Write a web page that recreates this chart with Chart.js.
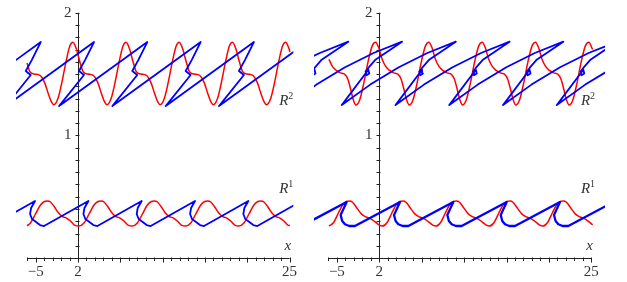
<!DOCTYPE html>
<html>
<head>
<meta charset="utf-8">
<script src="https://cdn.jsdelivr.net/npm/chart.js@4.4.1/dist/chart.umd.min.js"></script>
<style>
  html, body { margin: 0; padding: 0; background: #fff; }
  body { width: 627px; height: 282px; position: relative; overflow: hidden; }
  .panel { position: absolute; top: 0; height: 282px; }
  #leftBox { left: 0; width: 310px; }
  #rightBox { left: 305px; width: 322px; }
</style>
</head>
<body>
<div class="panel" id="leftBox"><canvas id="leftChart"></canvas></div>
<div class="panel" id="rightBox"><canvas id="rightChart"></canvas></div>
<script>
// axis labels
const xTickValues = [-2.6, 2, 25];
const xTickLabels = ["\u22125", "2", "25"];
const yTickValues = [1, 2];
const yTickLabels = ["1", "2"];
const xAxisStart = -3.52;
const xMinorStep = 0.92;

// left panel
const leftUpperRed = [
  [-3.54,1.59],[-3.23,1.52],[-2.73,1.50],[-2.13,1.49],[-1.63,1.43],[-1.23,1.34],[-0.93,1.28],[-0.63,1.25],[-0.18,1.30],[0.27,1.44],[0.72,1.61],[1.12,1.73],
  [1.45,1.76],[1.80,1.71],[2.20,1.60],[2.55,1.52],[3.05,1.50],[3.65,1.49],[4.15,1.43],[4.55,1.34],[4.85,1.28],[5.15,1.25],[5.60,1.30],[6.05,1.44],[6.50,1.61],[6.90,1.73],
  [7.23,1.76],[7.58,1.71],[7.98,1.60],[8.33,1.52],[8.83,1.50],[9.43,1.49],[9.93,1.43],[10.33,1.34],[10.63,1.28],[10.93,1.25],[11.38,1.30],[11.83,1.44],[12.28,1.61],[12.68,1.73],
  [13.01,1.76],[13.36,1.71],[13.76,1.60],[14.11,1.52],[14.61,1.50],[15.21,1.49],[15.71,1.43],[16.11,1.34],[16.41,1.28],[16.71,1.25],[17.16,1.30],[17.61,1.44],[18.06,1.61],[18.46,1.73],
  [18.79,1.76],[19.14,1.71],[19.54,1.60],[19.89,1.52],[20.39,1.50],[20.99,1.49],[21.49,1.43],[21.89,1.34],[22.19,1.28],[22.49,1.25],[22.94,1.30],[23.39,1.44],[23.84,1.61],[24.24,1.73],
  [24.57,1.76],[24.92,1.71],[25.04,1.68]
];
const leftLowerRed = [
  [-3.54,0.263],[-3.17,0.285],[-2.62,0.359],[-2.08,0.432],[-1.65,0.461],[-1.32,0.465],[-0.99,0.457],[-0.56,0.416],[-0.12,0.367],[0.31,0.338],[0.75,0.326],[1.18,0.302],[1.61,0.269],[2.09,0.261],
  [2.65,0.285],[3.20,0.359],[3.74,0.432],[4.17,0.461],[4.50,0.465],[4.83,0.457],[5.26,0.416],[5.70,0.367],[6.13,0.338],[6.57,0.326],[7.00,0.302],[7.43,0.269],[7.91,0.261],
  [8.45,0.285],[9.00,0.359],[9.54,0.432],[9.97,0.461],[10.30,0.465],[10.63,0.457],[11.06,0.416],[11.50,0.367],[11.93,0.338],[12.37,0.326],[12.80,0.302],[13.23,0.269],[13.71,0.261],
  [14.25,0.285],[14.80,0.359],[15.34,0.432],[15.77,0.461],[16.10,0.465],[16.43,0.457],[16.86,0.416],[17.30,0.367],[17.73,0.338],[18.17,0.326],[18.60,0.302],[19.03,0.269],[19.49,0.261],
  [20.03,0.285],[20.58,0.359],[21.12,0.432],[21.55,0.461],[21.88,0.465],[22.21,0.457],[22.64,0.416],[23.08,0.367],[23.51,0.338],[23.95,0.326],[24.38,0.302],[24.81,0.269],[25.04,0.265]
];
const leftUpperBlue = [
  [-11.64,1.239],[-2.05,1.761],[-3.03,1.614],[-3.68,1.525],[-3.14,1.492],[-5.85,1.239],
  [3.74,1.761],[2.76,1.614],[2.11,1.525],[2.65,1.492],[-0.06,1.239],
  [9.53,1.761],[8.55,1.614],[7.90,1.525],[8.44,1.492],[5.73,1.239],
  [15.33,1.761],[14.35,1.614],[13.70,1.525],[14.24,1.492],[11.53,1.239],
  [21.12,1.761],[20.14,1.614],[19.49,1.525],[20.03,1.492],[17.32,1.239],
  [26.91,1.761]
];
const leftLowerBlue = [
  [-7.49,0.261],[-2.67,0.465],[-3.10,0.408],[-3.21,0.359],[-3.00,0.318],[-2.56,0.294],[-2.13,0.269],[-1.69,0.261],
  [3.13,0.465],[2.70,0.408],[2.59,0.359],[2.80,0.318],[3.24,0.294],[3.67,0.269],[4.11,0.261],
  [8.92,0.465],[8.49,0.408],[8.38,0.359],[8.59,0.318],[9.03,0.294],[9.46,0.269],[9.90,0.261],
  [14.72,0.465],[14.29,0.408],[14.18,0.359],[14.39,0.318],[14.83,0.294],[15.26,0.269],[15.70,0.261],
  [20.51,0.465],[20.08,0.408],[19.97,0.359],[20.18,0.318],[20.62,0.294],[21.05,0.269],[21.49,0.261],
  [26.30,0.465]
];

// right panel
const rightUpperRed = [
  [-3.46,1.62],[-3.07,1.56],[-2.67,1.53],[-2.22,1.51],[-1.77,1.50],[-1.42,1.46],[-1.12,1.38],[-0.82,1.29],[-0.53,1.247],[-0.12,1.29],[0.33,1.43],[0.78,1.60],[1.23,1.73],
  [1.61,1.76],[1.96,1.71],[2.31,1.62],[2.71,1.56],[3.11,1.53],[3.56,1.51],[4.01,1.50],[4.36,1.46],[4.66,1.38],[4.96,1.29],[5.25,1.247],[5.66,1.29],[6.11,1.43],[6.56,1.60],[7.01,1.73],
  [7.39,1.76],[7.74,1.71],[8.09,1.62],[8.49,1.56],[8.89,1.53],[9.34,1.51],[9.79,1.50],[10.14,1.46],[10.44,1.38],[10.74,1.29],[11.03,1.247],[11.44,1.29],[11.89,1.43],[12.34,1.60],[12.79,1.73],
  [13.17,1.76],[13.52,1.71],[13.87,1.62],[14.27,1.56],[14.67,1.53],[15.12,1.51],[15.57,1.50],[15.92,1.46],[16.22,1.38],[16.52,1.29],[16.81,1.247],[17.22,1.29],[17.67,1.43],[18.12,1.60],[18.57,1.73],
  [18.95,1.76],[19.30,1.71],[19.65,1.62],[20.05,1.56],[20.45,1.53],[20.90,1.51],[21.35,1.50],[21.70,1.46],[22.00,1.38],[22.30,1.29],[22.59,1.247],[23.00,1.29],[23.45,1.43],[23.90,1.60],[24.35,1.73],
  [24.73,1.76],[25.08,1.71],[25.14,1.70]
];
const rightLowerRed = [
  [-3.46,0.261],[-2.95,0.29],[-2.45,0.365],[-1.95,0.435],[-1.55,0.462],[-1.25,0.465],[-0.90,0.455],[-0.45,0.41],[0.05,0.36],[0.55,0.335],[1.05,0.322],[1.55,0.295],[2.00,0.268],[2.35,0.261],
  [2.85,0.29],[3.35,0.365],[3.85,0.435],[4.25,0.462],[4.55,0.465],[4.90,0.455],[5.35,0.41],[5.85,0.36],[6.35,0.335],[6.85,0.322],[7.35,0.295],[7.80,0.268],[8.15,0.261],
  [8.65,0.29],[9.15,0.365],[9.65,0.435],[10.05,0.462],[10.35,0.465],[10.70,0.455],[11.15,0.41],[11.65,0.36],[12.15,0.335],[12.65,0.322],[13.15,0.295],[13.60,0.268],[13.95,0.261],
  [14.45,0.29],[14.95,0.365],[15.45,0.435],[15.85,0.462],[16.15,0.465],[16.50,0.455],[16.95,0.41],[17.45,0.36],[17.95,0.335],[18.45,0.322],[18.95,0.295],[19.40,0.268],[19.75,0.261],
  [20.25,0.29],[20.75,0.365],[21.25,0.435],[21.65,0.462],[21.95,0.465],[22.30,0.455],[22.75,0.41],[23.25,0.36],[23.75,0.335],[24.25,0.322],[24.75,0.295],[25.14,0.27]
];
const rightUpperBlue = [
  [-13.73,1.247],[-10.64,1.414],[-7.54,1.556],[-4.45,1.672],[-1.36,1.764],
  [-4.29,1.614],[-5.02,1.55],[-5.32,1.52],[-5.22,1.49],[-4.92,1.505],[-5.02,1.535],[-7.90,1.247],
  [-4.81,1.414],[-1.71,1.556],[1.38,1.672],[4.47,1.764],
  [1.54,1.614],[0.81,1.55],[0.51,1.52],[0.61,1.49],[0.91,1.505],[0.81,1.535],[-2.07,1.247],
  [1.02,1.414],[4.12,1.556],[7.21,1.672],[10.30,1.764],
  [7.37,1.614],[6.64,1.55],[6.34,1.52],[6.44,1.49],[6.74,1.505],[6.64,1.535],[3.76,1.247],
  [6.85,1.414],[9.95,1.556],[13.04,1.672],[16.13,1.764],
  [13.20,1.614],[12.47,1.55],[12.17,1.52],[12.27,1.49],[12.57,1.505],[12.47,1.535],[9.59,1.247],
  [12.68,1.414],[15.78,1.556],[18.87,1.672],[21.96,1.764],
  [19.03,1.614],[18.30,1.55],[18.00,1.52],[18.10,1.49],[18.40,1.505],[18.30,1.535],[15.42,1.247],
  [18.51,1.414],[21.61,1.556],[24.70,1.672],[27.79,1.764],
  [24.86,1.614],[24.13,1.55],[23.83,1.52],[23.93,1.49],[24.23,1.505],[24.13,1.535],[21.25,1.247],
  [24.34,1.414],[27.44,1.556]
];
const rightLowerBlue = [
  [-6.43,0.261],[-1.54,0.457],[-2.19,0.351],[-2.02,0.302],[-1.72,0.275],[-1.26,0.261],[-0.64,0.261],
  [4.25,0.457],[3.60,0.351],[3.77,0.302],[4.07,0.275],[4.53,0.261],[5.15,0.261],
  [10.03,0.457],[9.38,0.351],[9.55,0.302],[9.85,0.275],[10.31,0.261],[10.93,0.261],
  [15.82,0.457],[15.17,0.351],[15.34,0.302],[15.64,0.275],[16.10,0.261],[16.72,0.261],
  [21.60,0.457],[20.95,0.351],[21.12,0.302],[21.42,0.275],[21.88,0.261],[22.50,0.261],
  [27.39,0.457]
];

const RED = "rgb(255,0,0)";
const BLUE = "rgb(0,0,255)";

function toPoints(arr) {
  return arr.map(p => ({ x: p[0], y: p[1] }));
}

function redSet(arr) {
  return { data: toPoints(arr), borderColor: RED, borderWidth: 1.5, showLine: true,
    pointRadius: 0, cubicInterpolationMode: "monotone", clip: false };
}
// blue curves run past the plotted window and are cut at its left and right edges
function blueSet(arr, width) {
  return { data: toPoints(arr), borderColor: BLUE, borderWidth: width || 1.8, showLine: true,
    pointRadius: 0, tension: 0, borderJoinStyle: "round",
    clip: { left: 0, right: 0, top: false, bottom: false } };
}

// axes, ticks and text drawn through the chart scales
const axesPlugin = {
  id: "axes",
  beforeDatasetsDraw(chart) {
    const { ctx } = chart;
    const xs = chart.scales.x, ys = chart.scales.y;
    const x0 = Math.round(xs.getPixelForValue(2)) + 0.5;
    const y0 = Math.round(ys.getPixelForValue(0)) + 0.5;
    ctx.save();
    ctx.strokeStyle = "#222";
    ctx.lineWidth = 1;
    ctx.beginPath();
    ctx.moveTo(xs.getPixelForValue(xAxisStart), y0);
    ctx.lineTo(xs.getPixelForValue(25), y0);
    ctx.moveTo(x0, ys.getPixelForValue(2));
    ctx.lineTo(x0, y0);
    for (let i = 0; ; i++) {
      const v = xAxisStart + i * xMinorStep;
      if (v > 25.01) break;
      const px = Math.round(xs.getPixelForValue(v)) + 0.5;
      const k = Math.round((v - 2) / xMinorStep);
      const len = (k % 5 === 0) ? 4 : 2.5;
      ctx.moveTo(px, y0 - 1);
      ctx.lineTo(px, y0 + len);
    }
    for (let j = 0; j <= 20; j++) {
      const py = Math.round(ys.getPixelForValue(j / 10)) + 0.5;
      ctx.moveTo(x0 - 3, py);
      ctx.lineTo(x0 + 1, py);
    }
    ctx.stroke();

    ctx.fillStyle = "#333";
    ctx.font = "15px 'Liberation Serif', 'DejaVu Serif', serif";
    ctx.textBaseline = "middle";
    ctx.textAlign = "center";
    xTickValues.forEach((v, i) => {
      ctx.fillText(xTickLabels[i], xs.getPixelForValue(v), y0 + 14);
    });
    ctx.textAlign = "right";
    yTickValues.forEach((v, i) => {
      ctx.fillText(yTickLabels[i], x0 - 7, ys.getPixelForValue(v));
    });

    const drawR = (sup, vx, vy) => {
      const px = xs.getPixelForValue(vx), py = ys.getPixelForValue(vy);
      ctx.textAlign = "right";
      ctx.font = "italic 15px 'Liberation Serif', 'DejaVu Serif', serif";
      ctx.fillText("R", px + 1, py);
      ctx.textAlign = "left";
      ctx.font = "10px 'Liberation Serif', 'DejaVu Serif', serif";
      ctx.fillText(sup, px + 1, py - 5);
    };
    drawR("2", 24.75, 1.28);
    drawR("1", 24.75, 0.56);
    ctx.textAlign = "center";
    ctx.font = "italic 15px 'Liberation Serif', 'DejaVu Serif', serif";
    ctx.fillText("x", xs.getPixelForValue(24.8), ys.getPixelForValue(0.095));
    ctx.restore();
  }
};

function makeChart(id, sets, xMin, xMax, pad) {
  new Chart(document.getElementById(id), {
    type: "scatter",
    data: { datasets: sets },
    options: {
      responsive: true,
      maintainAspectRatio: false,
      animation: false,
      layout: { padding: pad },
      plugins: { legend: { display: false }, tooltip: { enabled: false } },
      scales: {
        x: { type: "linear", min: xMin, max: xMax, display: false },
        y: { type: "linear", min: -0.1, max: 2.05, display: false }
      }
    },
    plugins: [axesPlugin]
  });
}

makeChart("leftChart",
  [blueSet(leftUpperBlue), blueSet(leftLowerBlue), redSet(leftUpperRed), redSet(leftLowerRed)],
  -4.74, 25.4, { left: 16, right: 16.7, top: 6.6, bottom: 11.7 });
makeChart("rightChart",
  [blueSet(rightUpperBlue), blueSet(rightLowerBlue, 2.3), redSet(rightUpperRed), redSet(rightLowerRed)],
  -5.08, 26.48, { left: 9, right: 22, top: 6.6, bottom: 11.7 });
</script>
</body>
</html>
